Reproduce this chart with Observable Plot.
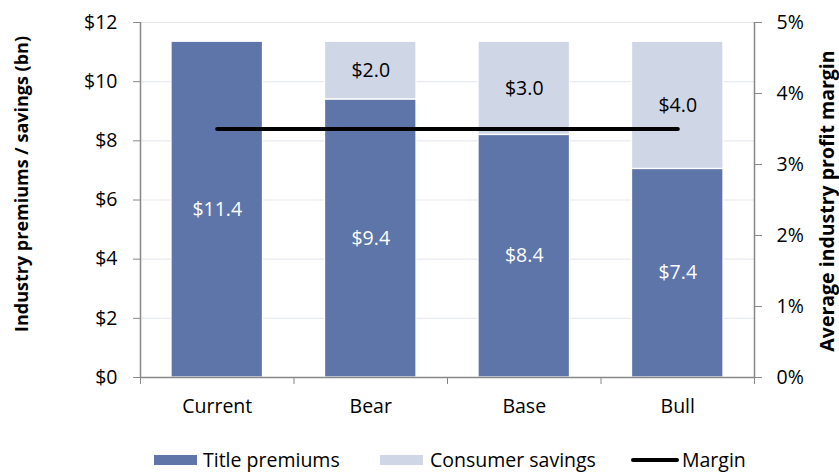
<!DOCTYPE html>
<html>
<head>
<meta charset="utf-8">
<script src="https://cdn.jsdelivr.net/npm/d3@7"></script>
<script src="https://cdn.jsdelivr.net/npm/@observablehq/plot@0.6"></script>
<style>
  html, body { margin: 0; padding: 0; background: #fff; }
  #wrap { position: relative; width: 839px; height: 472px; font-family: "Open Sans", sans-serif; }
  #legend { position: absolute; left: 0; top: 430px; width: 839px; height: 42px; font-size: 19.5px; color: #000; }
  .sw { position: absolute; height: 10px; top: 25px; }
  .ln { position: absolute; height: 4px; top: 28px; background: #000; border-radius: 2px; }
  .lt { position: absolute; top: 19px; height: 22px; line-height: 22px; white-space: nowrap; }
</style>
</head>
<body>
<div id="wrap">
  <div id="chart"></div>
  <div id="legend"></div>
</div>
<script>
// ---- data ----
const categories = ["Current", "Bear", "Base", "Bull"];
const titlePremiums = [11.35, 9.4, 8.2, 7.05];       // drawn heights ($bn)
const consumerSavings = [0, 1.95, 3.15, 4.3];        // drawn heights ($bn)
const premiumLabels = ["$11.4", "$9.4", "$8.4", "$7.4"];
const savingsLabels = ["", "$2.0", "$3.0", "$4.0"];
const marginPct = [3.5, 3.5, 3.5, 3.5];              // average industry profit margin (%)
const leftTicks = [0, 2, 4, 6, 8, 10, 12];
const rightTicks = [0, 1, 2, 3, 4, 5];
const seriesNames = ["Title premiums", "Consumer savings", "Margin"];

const dark = "#5d75a8";
const light = "#cfd6e6";
const yMax = 12, pctMax = 5;
const toY = p => p * yMax / pctMax;

const rows = categories.flatMap((c, i) => {
  let base = 0;
  return [[seriesNames[0], titlePremiums[i], premiumLabels[i]],
          [seriesNames[1], consumerSavings[i], savingsLabels[i]]]
    .filter(d => d[1] > 0)
    .map(([s, v, l]) => { const r = {i, cat: c, series: s, y1: base, y2: base + v, label: l}; base += v; return r; });
});
const marginRows = categories.map((c, i) => ({i, m: marginPct[i]}));

const chart = Plot.plot({
  width: 839,
  height: 430,
  marginLeft: 140,
  marginRight: 85,
  marginTop: 22,
  marginBottom: 53,
  style: {fontFamily: "Open Sans, sans-serif", fontSize: "19.5px", color: "#000", background: "#fff"},
  x: {domain: [0, categories.length], axis: null},
  y: {domain: [0, yMax], axis: null},
  color: {domain: seriesNames.slice(0, 2), range: [dark, light]},
  marks: [
    Plot.ruleY(leftTicks.filter(d => d > 0), {stroke: "#e8eaf1", strokeWidth: 1.2}),
    Plot.rect(rows, {x1: d => d.i, x2: d => d.i + 1, y1: "y1", y2: "y2", fill: "series",
      insetLeft: 31, insetRight: 31, stroke: "#fff", strokeWidth: 1.3}),
    Plot.text(rows.filter(d => d.series === seriesNames[0]), {x: d => d.i + 0.5, y: d => (d.y1 + d.y2) / 2,
      text: "label", fill: "#fff", fontSize: 19.5}),
    Plot.text(rows.filter(d => d.series === seriesNames[1]), {x: d => d.i + 0.5, y: d => (d.y1 + d.y2) / 2,
      text: "label", fill: "#000", fontSize: 19.5}),
    Plot.line(marginRows, {x: d => d.i + 0.5, y: d => toY(d.m), stroke: "#000", strokeWidth: 4.2, strokeLinecap: "round"}),
    Plot.ruleX([0, categories.length], {stroke: "#888", strokeWidth: 1.5}),
    Plot.ruleY([0], {stroke: "#888", strokeWidth: 1.5}),
    Plot.axisY({anchor: "left", ticks: leftTicks, tickSize: 7, tickPadding: 16, tickFormat: d => "$" + d,
      stroke: "#888", fill: "#000", fontSize: 19.5, label: null}),
    Plot.axisY({anchor: "right", ticks: rightTicks.map(toY), tickSize: 7, tickPadding: 15,
      tickFormat: d => Math.round(d * pctMax / yMax) + "%", stroke: "#888", fill: "#000", fontSize: 19.5, label: null}),
    Plot.axisX({anchor: "bottom", ticks: d3.range(categories.length + 1), tickSize: 7, tickFormat: () => "",
      stroke: "#888", label: null}),
    Plot.axisX({anchor: "bottom", ticks: categories.map((c, i) => i + 0.5), tickSize: 0, tickPadding: 22,
      tickFormat: d => categories[Math.floor(d)], fill: "#000", fontSize: 19.5, label: null}),
    Plot.text(["Industry premiums / savings (bn)"], {frameAnchor: "left", text: d => d, rotate: -90,
      textAnchor: "middle", dx: -118, dy: -16, fontWeight: "bold", fontSize: 18, fill: "#000"}),
    Plot.text(["Average industry profit margin"], {frameAnchor: "right", text: d => d, rotate: -90,
      textAnchor: "middle", dx: 73, dy: 1, fontWeight: "bold", fontSize: 19.5, fill: "#000"})
  ]
});
document.getElementById("chart").appendChild(chart);

// ---- legend ----
const legend = document.getElementById("legend");
const items = [
  {type: "sw", color: dark, x: 154, w: 43, tx: 203, label: seriesNames[0]},
  {type: "sw", color: light, x: 380, w: 43, tx: 430, label: seriesNames[1]},
  {type: "ln", color: "#000", x: 631, w: 48, tx: 682, label: seriesNames[2]}
];
for (const it of items) {
  const s = document.createElement("div");
  s.className = it.type;
  s.style.left = it.x + "px";
  s.style.width = it.w + "px";
  s.style.background = it.color;
  legend.appendChild(s);
  const t = document.createElement("div");
  t.className = "lt";
  t.style.left = it.tx + "px";
  t.textContent = it.label;
  legend.appendChild(t);
}
</script>
</body>
</html>
